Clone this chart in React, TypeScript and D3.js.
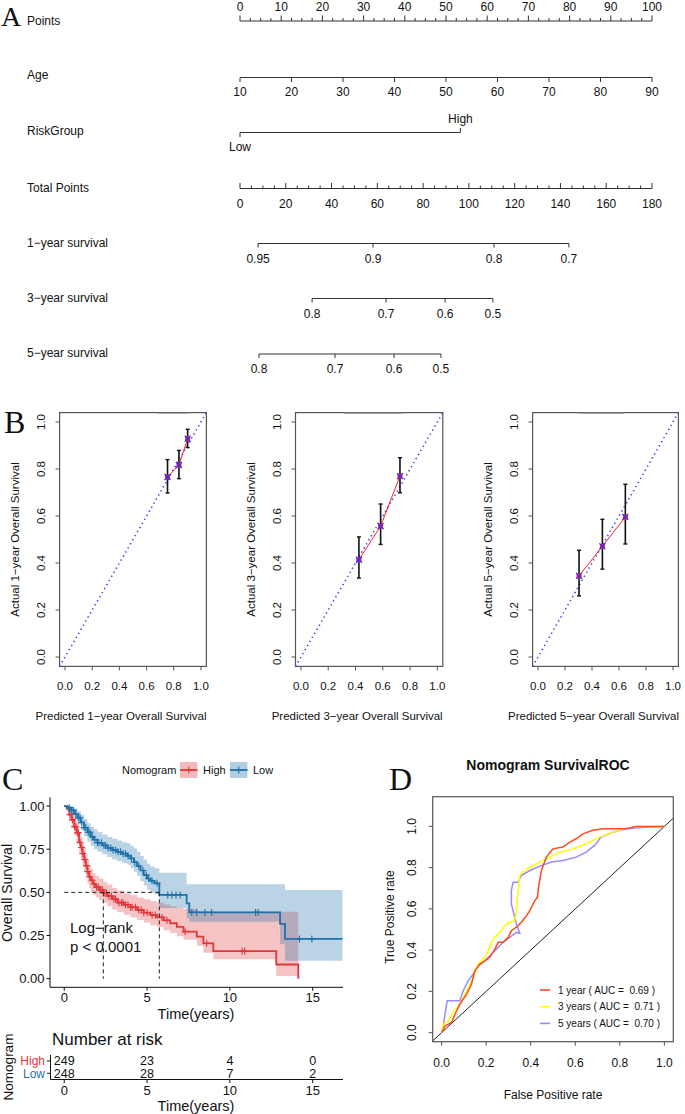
import React from "react";
import * as d3 from "d3";

const SANS = "'Liberation Sans', Arial, Helvetica, sans-serif";
const SERIF = "'Liberation Serif', 'Times New Roman', serif";

// ---------- A: nomogram ----------
const pointsTicks = d3.range(0, 101, 10);
const pointsMinor = d3.range(0, 100.01, 2.5);
const ageTicks = [10, 20, 30, 40, 50, 60, 70, 80, 90];
const ageDomain = [10, 90]; // age 10..90 -> 0..100 points
const riskLabels = ["Low", "High"];
const riskPoints = [0, 53.5];
const totalTicks = d3.range(0, 181, 20);
const totalMinor = d3.range(0, 180.01, 5);
const surv1Labels = ["0.95", "0.9", "0.8", "0.7"];
const surv1Points = [7.9, 58.1, 111, 143.7];
const surv3Labels = ["0.8", "0.7", "0.6", "0.5"];
const surv3Points = [31.5, 63.8, 89.6, 110.5];
const surv5Labels = ["0.8", "0.7", "0.6", "0.5"];
const surv5Points = [8.3, 41.5, 67.3, 87.8];

// ---------- B: calibration ----------
const cal1Pred = [0.754, 0.838, 0.902];
const cal1Obs = [0.766, 0.817, 0.929];
const cal1Lo = [0.698, 0.759, 0.891];
const cal1Hi = [0.84, 0.879, 0.969];
const cal3Pred = [0.425, 0.584, 0.726];
const cal3Obs = [0.414, 0.557, 0.77];
const cal3Lo = [0.336, 0.479, 0.699];
const cal3Hi = [0.511, 0.651, 0.848];
const cal5Pred = [0.304, 0.477, 0.647];
const cal5Obs = [0.345, 0.471, 0.596];
const cal5Lo = [0.26, 0.374, 0.481];
const cal5Hi = [0.454, 0.586, 0.735];
const calRug1 = [0.69, 0.91];
const calRug3 = [0.31, 0.75];
const calRug5 = [0.3, 0.64];

// ---------- C: Kaplan-Meier ----------
const highTime = [0, 0.15, 0.3, 0.45, 0.6, 0.75, 0.9, 1.0, 1.1, 1.2, 1.3, 1.4, 1.5, 1.6, 1.75, 1.9, 2.1, 2.36, 2.6, 2.9, 3.2, 3.6, 4.0, 4.4, 4.8, 5.2, 5.6, 6.0, 6.4, 6.8, 7.2, 8.0, 8.4, 9.0, 12.8, 14.13];
const highSurv = [1.0, 0.985, 0.95, 0.92, 0.88, 0.845, 0.79, 0.76, 0.725, 0.69, 0.655, 0.62, 0.59, 0.57, 0.548, 0.53, 0.515, 0.496, 0.478, 0.462, 0.44, 0.428, 0.414, 0.398, 0.382, 0.369, 0.355, 0.338, 0.321, 0.3, 0.272, 0.243, 0.205, 0.16, 0.082, 0];
const highLower = [1.0, 0.97, 0.92, 0.875, 0.83, 0.78, 0.73, 0.69, 0.655, 0.62, 0.585, 0.55, 0.525, 0.5, 0.485, 0.47, 0.455, 0.44, 0.42, 0.4, 0.385, 0.37, 0.355, 0.34, 0.325, 0.31, 0.3, 0.28, 0.265, 0.245, 0.225, 0.19, 0.15, 0.112, 0.016, 0.016];
const highUpper = [1.0, 1.0, 0.98, 0.955, 0.93, 0.9, 0.85, 0.82, 0.79, 0.76, 0.725, 0.69, 0.655, 0.635, 0.61, 0.595, 0.58, 0.56, 0.545, 0.525, 0.51, 0.495, 0.485, 0.47, 0.46, 0.45, 0.44, 0.43, 0.42, 0.41, 0.405, 0.388, 0.388, 0.388, 0.388, 0.388];
const highCensor = [0.35, 0.5, 0.62, 0.7, 0.8, 0.85, 0.95, 1.05, 1.12, 1.25, 1.35, 1.42, 1.55, 1.68, 1.8, 1.95, 2.05, 2.2, 2.3, 2.45, 2.55, 2.7, 2.85, 3.0, 3.1, 3.3, 3.45, 3.55, 3.7, 3.85, 4.0, 4.1, 4.3, 4.5, 4.65, 4.8, 5.0, 5.3, 5.5, 5.9, 6.2, 7.3, 8.6, 10.75, 10.9];

const lowTime = [0, 0.2, 0.4, 0.6, 0.8, 1.0, 1.2, 1.4, 1.6, 1.8, 2.0, 2.3, 2.6, 2.9, 3.2, 3.5, 3.8, 4.0, 4.2, 4.4, 4.6, 4.8, 5.0, 5.2, 5.45, 5.74, 7.39, 7.55, 13.03, 13.33, 16.8];
const lowSurv = [1.0, 0.99, 0.975, 0.955, 0.932, 0.905, 0.875, 0.848, 0.822, 0.805, 0.787, 0.772, 0.757, 0.745, 0.735, 0.724, 0.712, 0.697, 0.675, 0.652, 0.627, 0.6, 0.58, 0.566, 0.552, 0.485, 0.436, 0.384, 0.317, 0.23, 0.23];
const lowLower = [1.0, 0.975, 0.955, 0.925, 0.895, 0.86, 0.825, 0.795, 0.77, 0.75, 0.735, 0.72, 0.705, 0.69, 0.68, 0.67, 0.66, 0.64, 0.62, 0.595, 0.565, 0.54, 0.515, 0.5, 0.49, 0.41, 0.35, 0.33, 0.2, 0.104, 0.104];
const lowUpper = [1.0, 1.0, 0.995, 0.985, 0.97, 0.95, 0.925, 0.9, 0.88, 0.865, 0.85, 0.835, 0.82, 0.81, 0.8, 0.79, 0.785, 0.77, 0.755, 0.735, 0.71, 0.69, 0.665, 0.65, 0.64, 0.614, 0.547, 0.547, 0.547, 0.514, 0.514];
const lowCensor = [0.3, 0.45, 0.55, 0.7, 0.85, 0.95, 1.05, 1.2, 1.3, 1.45, 1.55, 1.7, 1.85, 2.0, 2.1, 2.25, 2.4, 2.5, 2.65, 2.8, 2.95, 3.1, 3.25, 3.4, 3.55, 3.7, 3.85, 4.05, 4.25, 4.5, 4.75, 4.95, 5.1, 5.3, 5.6, 6.25, 6.5, 6.75, 7.0, 7.7, 8.0, 8.5, 8.9, 11.55, 11.7, 14.2, 14.95];

const medianTimes = [2.36, 5.74];
const kmTicksX = [0, 5, 10, 15];
const kmTicksY = [0, 0.25, 0.5, 0.75, 1];
const riskGroupsKM = ["High", "Low"];
const riskHigh = [249, 23, 4, 0];
const riskLow = [248, 28, 7, 2];

// ---------- D: ROC ----------
const roc1Fpr = [0, 0.015, 0.045, 0.06, 0.082, 0.112, 0.134, 0.149, 0.172, 0.194, 0.216, 0.239, 0.254, 0.276, 0.299, 0.313, 0.336, 0.358, 0.376, 0.396, 0.418, 0.43, 0.436, 0.448, 0.47, 0.5, 0.545, 0.575, 0.604, 0.634, 0.679, 0.724, 0.828, 0.873, 1];
const roc1Tpr = [0, 0.032, 0.049, 0.089, 0.138, 0.186, 0.235, 0.3, 0.332, 0.348, 0.365, 0.405, 0.438, 0.438, 0.462, 0.494, 0.511, 0.535, 0.559, 0.592, 0.64, 0.656, 0.713, 0.786, 0.851, 0.891, 0.9, 0.924, 0.94, 0.964, 0.981, 0.989, 0.989, 1, 1];
const roc3Fpr = [0, 0.007, 0.03, 0.052, 0.082, 0.112, 0.142, 0.164, 0.194, 0.216, 0.231, 0.261, 0.284, 0.306, 0.328, 0.336, 0.343, 0.351, 0.366, 0.396, 0.44, 0.485, 0.53, 0.59, 0.649, 0.709, 0.769, 0.828, 0.903, 1];
const roc3Tpr = [0, 0.04, 0.057, 0.097, 0.138, 0.203, 0.267, 0.332, 0.365, 0.413, 0.454, 0.486, 0.519, 0.535, 0.543, 0.592, 0.689, 0.762, 0.778, 0.802, 0.827, 0.851, 0.875, 0.891, 0.916, 0.948, 0.972, 0.992, 1, 1];
const roc5Fpr = [0, 0.007, 0.015, 0.025, 0.082, 0.097, 0.119, 0.142, 0.164, 0.194, 0.224, 0.246, 0.276, 0.306, 0.336, 0.351, 0.336, 0.313, 0.313, 0.321, 0.343, 0.358, 0.396, 0.448, 0.493, 0.545, 0.604, 0.649, 0.687, 0.716, 0.769, 0.828, 0.933, 1];
const roc5Tpr = [0, 0.024, 0.089, 0.154, 0.154, 0.203, 0.251, 0.284, 0.324, 0.348, 0.381, 0.405, 0.438, 0.462, 0.486, 0.481, 0.527, 0.624, 0.689, 0.729, 0.729, 0.762, 0.786, 0.81, 0.827, 0.835, 0.851, 0.875, 0.908, 0.948, 0.972, 0.989, 0.997, 1];
const rocLabels = ["1 year ( AUC =  0.69 )", "3 years ( AUC =  0.71 )", "5 years ( AUC =  0.70 )"];
const rocColors = ["#FF4A1C", "#FFFF00", "#9A8AFF"];

const RED = "#E0383D";
const BLUE = "#1F72AA";
const AXIS = "#333";

// ---------------------------------------------------------------
function Nomogram() {
  const pts = d3.scaleLinear().domain([0, 100]).range([240, 652]);
  const tot = d3.scaleLinear().domain([0, 180]).range([240, 652]);
  const age = d3.scaleLinear().domain(ageDomain).range([pts(0), pts(100)]);
  const labelX = 27;
  const fs = 12;
  const rowLabel = (text: string, y: number) => (
    <text x={labelX} y={y + 4} fontSize={fs}>{text}</text>
  );
  const survRow = (labels: string[], points: number[], y: number) => (
    <g>
      <line x1={tot(points[0])} x2={tot(points[points.length - 1])} y1={y} y2={y} stroke={AXIS} />
      {points.map((p, i) => (
        <g key={i}>
          <line x1={tot(p)} x2={tot(p)} y1={y} y2={y + 4} stroke={AXIS} />
          <text x={tot(p)} y={y + 19} fontSize={fs} textAnchor="middle">{labels[i]}</text>
        </g>
      ))}
    </g>
  );
  return (
    <g fill="#111">
      <text x={1} y={26} fontFamily={SERIF} fontSize={28}>A</text>
      {rowLabel("Points", 21)}
      <line x1={pts(0)} x2={pts(100)} y1={21} y2={21} stroke={AXIS} />
      {pointsMinor.map((p) => (
        <line key={p} x1={pts(p)} x2={pts(p)} y1={21} y2={p % 10 === 0 ? 15.5 : 18} stroke={AXIS} />
      ))}
      {pointsTicks.map((p) => (
        <text key={p} x={pts(p)} y={11} fontSize={fs} textAnchor="middle">{p}</text>
      ))}

      {rowLabel("Age", 75)}
      <line x1={age(ageDomain[0])} x2={age(ageDomain[1])} y1={77.5} y2={77.5} stroke={AXIS} />
      {ageTicks.map((a) => (
        <g key={a}>
          <line x1={age(a)} x2={age(a)} y1={77.5} y2={82} stroke={AXIS} />
          <text x={age(a)} y={96} fontSize={fs} textAnchor="middle">{a}</text>
        </g>
      ))}

      {rowLabel("RiskGroup", 131)}
      <line x1={pts(riskPoints[0])} x2={pts(riskPoints[1])} y1={132.5} y2={132.5} stroke={AXIS} />
      <line x1={pts(riskPoints[0])} x2={pts(riskPoints[0])} y1={132.5} y2={137} stroke={AXIS} />
      <line x1={pts(riskPoints[1])} x2={pts(riskPoints[1])} y1={132.5} y2={128} stroke={AXIS} />
      <text x={pts(riskPoints[0])} y={151} fontSize={fs} textAnchor="middle">{riskLabels[0]}</text>
      <text x={pts(riskPoints[1])} y={122.5} fontSize={fs} textAnchor="middle">{riskLabels[1]}</text>

      {rowLabel("Total Points", 188)}
      <line x1={tot(0)} x2={tot(180)} y1={188.5} y2={188.5} stroke={AXIS} />
      {totalMinor.map((p) => (
        <line key={p} x1={tot(p)} x2={tot(p)} y1={188.5} y2={p % 20 === 0 ? 183 : 185.5} stroke={AXIS} />
      ))}
      {totalTicks.map((p) => (
        <text key={p} x={tot(p)} y={207.5} fontSize={fs} textAnchor="middle">{p}</text>
      ))}

      {rowLabel("1\u2212year survival", 242.5)}
      {survRow(surv1Labels, surv1Points, 243.5)}
      {rowLabel("3\u2212year survival", 297.5)}
      {survRow(surv3Labels, surv3Points, 298.5)}
      {rowLabel("5\u2212year survival", 353)}
      {survRow(surv5Labels, surv5Points, 354)}
    </g>
  );
}

// ---------------------------------------------------------------
type CalProps = {
  left: number; right: number; yrs: number;
  pred: number[]; obs: number[]; lo: number[]; hi: number[]; rug: number[];
};
function CalPlot({ left, right, yrs, pred, obs, lo, hi, rug }: CalProps) {
  const x = d3.scaleLinear().domain([-0.04, 1.04]).range([left, right]);
  const y = d3.scaleLinear().domain([-0.04, 1.04]).range([666.4, 412.6]);
  const ticks = d3.range(0, 1.001, 0.2);
  const fmt = d3.format(".1f");
  const path = d3.line<number>().x((_, i) => x(pred[i])).y((_, i) => y(obs[i]));
  const bottom = y(-0.04);
  const midX = (left + right) / 2;
  return (
    <g fill="#111">
      <rect x={left} y={y(1.04)} width={right - left} height={bottom - y(1.04)} fill="none" stroke="#555" strokeWidth={1.2} />
      <line x1={x(rug[0])} x2={x(rug[1])} y1={y(1.04) + 0.8} y2={y(1.04) + 0.8} stroke="#aaa" strokeWidth={1.2} />
      <line x1={x(-0.04)} y1={y(-0.04)} x2={x(1.04)} y2={y(1.04)} stroke="#3a3aff" strokeWidth={1.6} strokeDasharray="1.3 3.4" />
      <path d={path(pred) || ""} fill="none" stroke="#ff2020" strokeWidth={1} />
      {pred.map((p, i) => (
        <g key={i}>
          <line x1={x(p)} x2={x(p)} y1={y(lo[i])} y2={y(hi[i])} stroke="#111" strokeWidth={1.6} />
          <line x1={x(p) - 2} x2={x(p) + 2} y1={y(lo[i])} y2={y(lo[i])} stroke="#111" strokeWidth={1.4} />
          <line x1={x(p) - 2} x2={x(p) + 2} y1={y(hi[i])} y2={y(hi[i])} stroke="#111" strokeWidth={1.4} />
          <rect x={x(p) - 2.5} y={y(obs[i]) - 2.5} width={5} height={5} fill="#e0204a" />
          <path d={`M${x(p) - 3},${y(obs[i]) - 3}L${x(p) + 3},${y(obs[i]) + 3}M${x(p) - 3},${y(obs[i]) + 3}L${x(p) + 3},${y(obs[i]) - 3}`} stroke="#3030ff" strokeWidth={1.2} />
        </g>
      ))}
      {ticks.map((t) => (
        <g key={t}>
          <line x1={x(t)} x2={x(t)} y1={bottom} y2={bottom + 4} stroke="#555" />
          <text x={x(t)} y={690} fontSize={11.5} textAnchor="middle">{fmt(t)}</text>
          <line x1={left} x2={left - 4} y1={y(t)} y2={y(t)} stroke="#555" />
          <text transform={`translate(${left - 15},${y(t)}) rotate(-90)`} fontSize={11.5} textAnchor="middle">{fmt(t)}</text>
        </g>
      ))}
      <text transform={`translate(${left - 41},${(y(0) + y(1)) / 2}) rotate(-90)`} fontSize={11.5} textAnchor="middle">
        {`Actual ${yrs}\u2212year Overall Survival`}
      </text>
      <text x={midX - 12} y={720} fontSize={11.5} textAnchor="middle">{`Predicted ${yrs}\u2212year Overall Survival`}</text>
    </g>
  );
}

// ---------------------------------------------------------------
function KMPlot() {
  const x = d3.scaleLinear().domain([-0.86, 16.83]).range([50, 343]);
  const y = d3.scaleLinear().domain([-0.05, 1.05]).range([987.3, 797.4]);
  const stepLine = d3.line<[number, number]>().x((d) => x(d[0])).y((d) => y(d[1])).curve(d3.curveStepAfter);
  const band = d3.area<[number, number, number]>()
    .x((d) => x(d[0])).y0((d) => y(d[1])).y1((d) => y(d[2])).curve(d3.curveStepAfter);
  const groups = [
    { color: RED, t: highTime, s: highSurv, lo: highLower, hi: highUpper, c: highCensor },
    { color: BLUE, t: lowTime, s: lowSurv, lo: lowLower, hi: lowUpper, c: lowCensor },
  ];
  const survAt = (t: number[], s: number[], tc: number) => s[Math.max(0, d3.bisectRight(t, tc) - 1)];
  const rowY = [1061, 1073.3];
  const riskVals = [riskHigh, riskLow];
  const plus = (cx: number, cy: number, col: string, k: string) => (
    <path key={k} d={`M${cx - 3.5},${cy}H${cx + 3.5}M${cx},${cy - 3.5}V${cy + 3.5}`} stroke={col} strokeWidth={1.1} />
  );
  return (
    <g fontFamily={SANS} fill="#111">
      <text x={2} y={790} fontFamily={SERIF} fontSize={32}>C</text>
      {/* legend */}
      <text x={122} y={774} fontSize={11}>Nomogram</text>
      {groups.map((g, i) => {
        const bx = i === 0 ? 180 : 230;
        return (
          <g key={i}>
            <rect x={bx} y={762} width={17.5} height={16} fill={g.color} fillOpacity={0.35} />
            <line x1={bx} x2={bx + 17.5} y1={770} y2={770} stroke={g.color} strokeWidth={1.8} />
            {plus(bx + 8.75, 770, g.color, "lg" + i)}
            <text x={bx + 23} y={774} fontSize={11}>{riskGroupsKM[i]}</text>
          </g>
        );
      })}
      {/* bands */}
      {groups.map((g, i) => (
        <path key={"b" + i} d={band(g.t.map((t, j) => [t, g.lo[j], g.hi[j]] as [number, number, number])) || ""} fill={g.color} fillOpacity={0.3} />
      ))}
      {/* curves */}
      {groups.map((g, i) => (
        <path key={"l" + i} d={stepLine(g.t.map((t, j) => [t, g.s[j]] as [number, number])) || ""} fill="none" stroke={g.color} strokeWidth={1.8} />
      ))}
      {groups.map((g, i) => (
        <g key={"c" + i}>{g.c.map((tc, j) => plus(x(tc), y(survAt(g.t, g.s, tc)), g.color, `${i}-${j}`))}</g>
      ))}
      {/* median lines */}
      <g stroke="#222" strokeWidth={1} strokeDasharray="4 3" fill="none">
        <line x1={x(0)} x2={x(medianTimes[1])} y1={y(0.5)} y2={y(0.5)} />
        {medianTimes.map((m) => <line key={m} x1={x(m)} x2={x(m)} y1={y(0.5)} y2={y(0)} />)}
      </g>
      <text x={70} y={933} fontSize={15}>{"Log\u2212rank"}</text>
      <text x={70} y={952} fontSize={15}>{"p < 0.0001"}</text>
      {/* axes */}
      <line x1={50} x2={50} y1={797.4} y2={987.3} stroke="#111" />
      <line x1={50} x2={343} y1={987.3} y2={987.3} stroke="#111" />
      {kmTicksY.map((t) => (
        <g key={t}>
          <line x1={46.5} x2={50} y1={y(t)} y2={y(t)} stroke="#111" />
          <text x={44.5} y={y(t) + 4.5} fontSize={13} textAnchor="end">{d3.format(".2f")(t)}</text>
        </g>
      ))}
      {kmTicksX.map((t) => (
        <g key={t}>
          <line x1={x(t)} x2={x(t)} y1={987.3} y2={990.8} stroke="#111" />
          <text x={x(t)} y={1002} fontSize={13} textAnchor="middle">{t}</text>
        </g>
      ))}
      <text x={196} y={1018.5} fontSize={14.5} textAnchor="middle">Time(years)</text>
      <text transform="translate(12,893) rotate(-90)" fontSize={14} textAnchor="middle">Overall Survival</text>

      {/* risk table */}
      <text x={52} y={1045} fontSize={17}>Number at risk</text>
      <line x1={50.5} x2={50.5} y1={1055} y2={1079.5} stroke="#111" />
      <line x1={50.5} x2={343} y1={1079.5} y2={1079.5} stroke="#111" />
      {rowY.map((ry, i) => (
        <g key={i}>
          <line x1={47} x2={50.5} y1={ry} y2={ry} stroke="#111" />
          <text x={45} y={ry + 4.2} fontSize={12} textAnchor="end" fill={groups[i].color}>{riskGroupsKM[i]}</text>
          {kmTicksX.map((t, j) => (
            <text key={t} x={x(t)} y={ry + 4.3} fontSize={12.5} textAnchor="middle">{riskVals[i][j]}</text>
          ))}
        </g>
      ))}
      {kmTicksX.map((t) => (
        <g key={t}>
          <line x1={x(t)} x2={x(t)} y1={1079.5} y2={1083} stroke="#111" />
          <text x={x(t)} y={1095} fontSize={13} textAnchor="middle">{t}</text>
        </g>
      ))}
      <text x={196} y={1110.5} fontSize={14.5} textAnchor="middle">Time(years)</text>
      <text transform="translate(13,1067) rotate(-90)" fontSize={13.5} textAnchor="middle">Nomogram</text>
    </g>
  );
}

// ---------------------------------------------------------------
function ROCPlot() {
  const x = d3.scaleLinear().domain([-0.04, 1.04]).range([432.7, 673.3]);
  const y = d3.scaleLinear().domain([-0.044, 1.144]).range([1041.7, 796.7]);
  const ticks = d3.range(0, 1.001, 0.2);
  const fmt = d3.format(".1f");
  const curves = [
    { f: roc1Fpr, t: roc1Tpr },
    { f: roc3Fpr, t: roc3Tpr },
    { f: roc5Fpr, t: roc5Tpr },
  ];
  const line = d3.line<[number, number]>().x((d) => x(d[0])).y((d) => y(d[1]));
  const bottom = y(-0.044);
  const top = y(1.144);
  return (
    <g fontFamily={SANS} fill="#111">
      <text x={389} y={790} fontFamily={SERIF} fontSize={32}>D</text>
      <text x={548} y={770} fontSize={14} fontWeight="bold" textAnchor="middle">Nomogram SurvivalROC</text>
      <defs>
        <clipPath id="rocclip">
          <rect x={432.7} y={top} width={240.6} height={bottom - top} />
        </clipPath>
      </defs>
      <line x1={x(-0.04)} y1={y(-0.04)} x2={x(1.04)} y2={y(1.04)} stroke="#222" strokeWidth={1} clipPath="url(#rocclip)" />
      {[2, 1, 0].map((i) => (
        <path key={i} d={line(curves[i].f.map((f, j) => [f, curves[i].t[j]] as [number, number])) || ""} fill="none" stroke={rocColors[i]} strokeWidth={1.5} />
      ))}
      <rect x={432.7} y={top} width={240.6} height={bottom - top} fill="none" stroke="#555" strokeWidth={1.2} />
      {ticks.map((t) => (
        <g key={t}>
          <line x1={x(t)} x2={x(t)} y1={bottom} y2={bottom + 4} stroke="#555" />
          <text x={x(t)} y={1067} fontSize={12} textAnchor="middle">{fmt(t)}</text>
          <line x1={432.7} x2={428.7} y1={y(t)} y2={y(t)} stroke="#555" />
          <text transform={`translate(${416},${y(t)}) rotate(-90)`} fontSize={12} textAnchor="middle">{fmt(t)}</text>
        </g>
      ))}
      <text x={553} y={1099} fontSize={12} textAnchor="middle">False Positive rate</text>
      <text transform="translate(394,917) rotate(-90)" fontSize={12} textAnchor="middle">True Positive rate</text>
      {rocLabels.map((l, i) => (
        <g key={l}>
          <line x1={540} x2={550} y1={990 + i * 16.7} y2={990 + i * 16.7} stroke={rocColors[i]} strokeWidth={1.6} />
          <text x={558} y={993.5 + i * 16.7} fontSize={10} style={{ whiteSpace: "pre" }}>{l}</text>
        </g>
      ))}
    </g>
  );
}

export default function App() {
  return (
    <svg width={685} height={1114} style={{ position: "absolute", left: 0, top: 0 }} fontFamily={SANS}>
      <rect width={685} height={1114} fill="#fff" />
      <Nomogram />
      <text x={4} y={433} fontFamily={SERIF} fontSize={32} fill="#111">B</text>
      <CalPlot left={59.6} right={206.4} yrs={1} pred={cal1Pred} obs={cal1Obs} lo={cal1Lo} hi={cal1Hi} rug={calRug1} />
      <CalPlot left={295.5} right={442.8} yrs={3} pred={cal3Pred} obs={cal3Obs} lo={cal3Lo} hi={cal3Hi} rug={calRug3} />
      <CalPlot left={532.6} right={678.4} yrs={5} pred={cal5Pred} obs={cal5Obs} lo={cal5Lo} hi={cal5Hi} rug={calRug5} />
      <KMPlot />
      <ROCPlot />
    </svg>
  );
}
